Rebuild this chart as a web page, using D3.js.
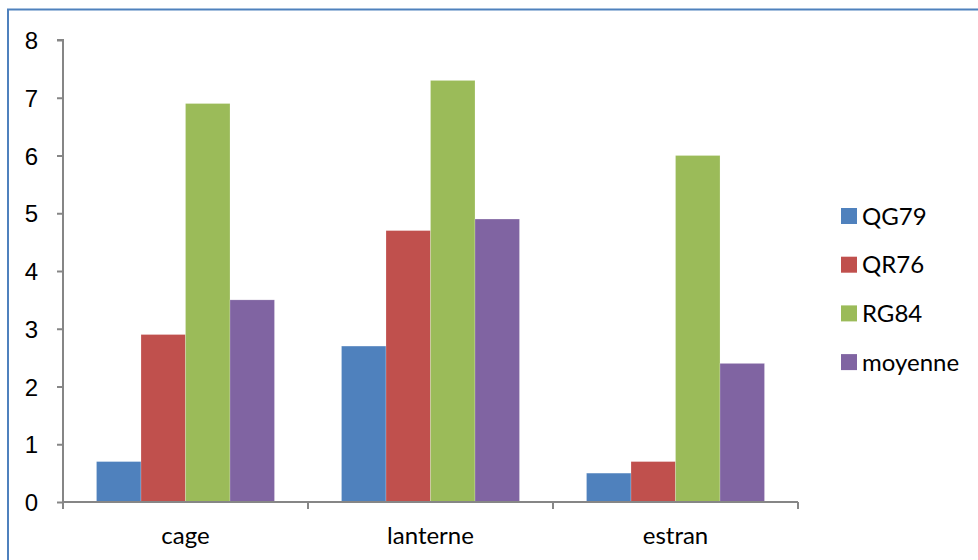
<!DOCTYPE html>
<html>
<head>
<meta charset="utf-8">
<script src="https://cdn.jsdelivr.net/npm/d3@7"></script>
<style>
  html, body { margin: 0; padding: 0; background: #fff; }
  svg { display: block; font-family: Lato, "Open Sans", sans-serif; }
</style>
</head>
<body>
<svg id="chart" width="978" height="560"></svg>
<script>
// Sites and series
const categories = ["cage", "lanterne", "estran"];
const seriesNames = ["QG79", "QR76", "RG84", "moyenne"];
const seriesColors = ["#4F81BD", "#C0504D", "#9BBB59", "#8064A2"];
const QG79 = [0.7, 2.7, 0.5];
const QR76 = [2.9, 4.7, 0.7];
const RG84 = [6.9, 7.3, 6.0];
const moyenne = [3.5, 4.9, 2.4];
const yTicks = [0, 1, 2, 3, 4, 5, 6, 7, 8];

const seriesValues = [QG79, QR76, RG84, moyenne];
const rows = categories.map((c, i) => ({
  cat: c,
  vals: seriesNames.map((s, j) => ({ key: s, value: seriesValues[j][i], color: seriesColors[j] }))
}));

const svg = d3.select("#chart");
const fontSize = "24px";

// Outer frame
svg.append("rect")
  .attr("x", 8).attr("y", 9.5)
  .attr("width", 1000).attr("height", 600)
  .attr("fill", "none")
  .attr("stroke", "#4F81BD")
  .attr("stroke-width", 2);

const plot = { left: 63, right: 798, top: 40, bottom: 502 };

const x0 = d3.scaleBand()
  .domain(categories)
  .range([plot.left, plot.right])
  .paddingInner(0.2735)
  .paddingOuter(0.1367);

const x1 = d3.scaleBand()
  .domain(seriesNames)
  .range([0, x0.bandwidth()]);

const y = d3.scaleLinear()
  .domain([0, 8])
  .range([plot.bottom, plot.top]);

// Bars
const groups = svg.append("g")
  .selectAll("g")
  .data(rows)
  .join("g")
  .attr("transform", d => `translate(${x0(d.cat)},0)`);

groups.selectAll("rect")
  .data(d => d.vals)
  .join("rect")
  .attr("x", d => x1(d.key))
  .attr("y", d => y(d.value))
  .attr("width", x1.bandwidth())
  .attr("height", d => plot.bottom - y(d.value))
  .attr("fill", d => d.color)
  .attr("stroke", "rgba(255,255,255,0.35)")
  .attr("stroke-width", 0.6);

// Y axis
const yAxis = svg.append("g")
  .attr("transform", `translate(${plot.left},0)`)
  .call(d3.axisLeft(y).tickValues(yTicks).tickSize(6).tickPadding(19).tickFormat(d3.format("d")));
yAxis.select(".domain").attr("stroke", "#868686").attr("stroke-width", 2)
  .attr("d", `M-6,${plot.top}H0V${plot.bottom}`);
yAxis.selectAll(".tick line").attr("stroke", "#868686").attr("stroke-width", 2);
yAxis.selectAll(".tick text").attr("fill", "#000").style("font-size", fontSize).attr("dy", "0.36em");

// X axis with boundary ticks between groups
const xAxis = svg.append("g")
  .attr("transform", `translate(0,${plot.bottom})`);
xAxis.append("line")
  .attr("x1", plot.left).attr("x2", plot.right)
  .attr("stroke", "#868686").attr("stroke-width", 2);
const step = (plot.right - plot.left) / categories.length;
xAxis.selectAll(".bt")
  .data(d3.range(categories.length + 1))
  .join("line")
  .attr("x1", i => plot.left + i * step)
  .attr("x2", i => plot.left + i * step)
  .attr("y1", 0).attr("y2", 7)
  .attr("stroke", "#868686").attr("stroke-width", 2);
xAxis.selectAll(".lbl")
  .data(categories)
  .join("text")
  .attr("x", d => x0(d) + x0.bandwidth() / 2)
  .attr("y", 42)
  .attr("text-anchor", "middle")
  .attr("fill", "#000")
  .style("font-size", fontSize)
  .text(d => d);

// Legend
const legend = svg.append("g")
  .selectAll("g")
  .data(seriesNames)
  .join("g")
  .attr("transform", (d, i) => `translate(841,${216 + i * 48.7})`);
legend.append("rect")
  .attr("x", 0).attr("y", -8)
  .attr("width", 16).attr("height", 16)
  .attr("fill", (d, i) => seriesColors[i]);
legend.append("text")
  .attr("x", 21).attr("y", 0)
  .attr("dy", "0.36em")
  .attr("fill", "#000")
  .style("font-size", fontSize)
  .text(d => d);
</script>
</body>
</html>
